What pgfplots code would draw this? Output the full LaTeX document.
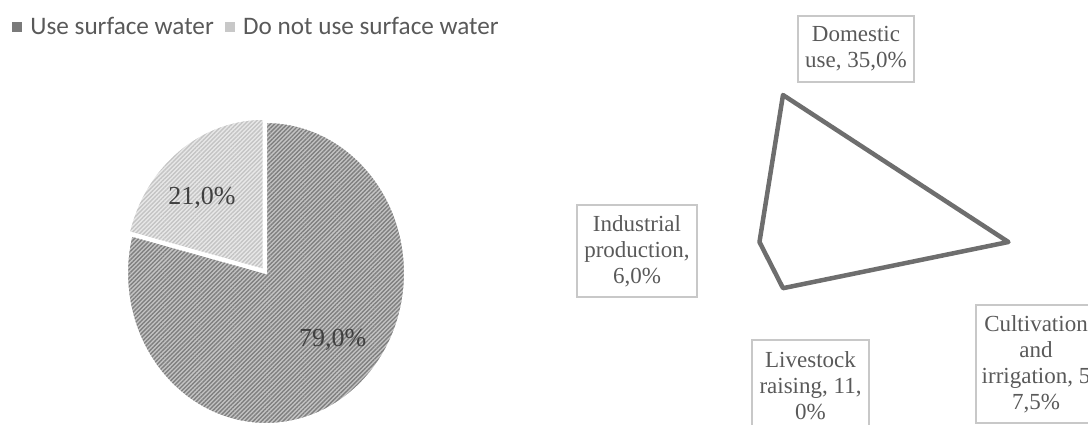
\documentclass[border=0pt]{standalone}
\usepackage{pgfplots}
\pgfplotsset{compat=1.18}
\usepackage{pgfplotstable}
\usepackage{fontspec}
\setmainfont{Liberation Serif}
\newfontfamily\legendfont{Carlito}
\usetikzlibrary{patterns.meta}
\definecolor{darkbase}{HTML}{C4C4C4}
\definecolor{darkline}{HTML}{7F7F7F}
\definecolor{lightbase}{HTML}{E8E8E8}
\definecolor{lightline}{HTML}{C4C4C4}
\definecolor{radarline}{HTML}{6E6E6E}
\definecolor{boxline}{HTML}{C8C8C8}
\definecolor{labeltext}{HTML}{595959}
\definecolor{pietext}{HTML}{404040}
\definecolor{legmarkA}{HTML}{7A7A7A}
\definecolor{legmarkB}{HTML}{C8C8C8}

\pgfplotstableread{
label value
Use 79.0
DoNot 21.0
}\pietable

% radar: value plotted on its own spoke (up, right, down, left)
\pgfplotstableread{
x y
0 35.0
57.5 0
0 -11.0
-6.0 0
}\radartable

\begin{document}
\begin{tikzpicture}
\path[use as bounding box] (0pt,0pt) rectangle (1088pt,424pt);
\clip (0pt,0pt) rectangle (1088pt,424pt);

\pgfplotstablegetelem{0}{value}\of\pietable \let\vA\pgfplotsretval
\pgfplotstablegetelem{1}{value}\of\pietable \let\vB\pgfplotsretval
\pgfmathsetmacro\angA{90-3.6*\vA}
\pgfmathsetmacro\angB{360+\angA}

\begin{axis}[
  hide axis, scale only axis,
  width=278pt, height=302pt,
  xmin=-1, xmax=1, ymin=-1, ymax=1,
  at={(266pt,151pt)}, anchor=center, clip=false,
  legend columns=2,
  legend style={draw=none, fill=none, inner sep=0pt, outer sep=0pt,
    at={(axis description cs:-0.4137,1.316)}, anchor=west,
    font=\legendfont\fontsize{25.2pt}{29pt}\selectfont, text=labeltext,
    nodes={inner sep=0pt},
    /tikz/every odd column/.style={column sep=9pt},
    /tikz/every even column/.style={column sep=11pt}},
]
\addlegendimage{legend image code/.code={\fill[legmarkA] (0pt,-4.5pt) rectangle (9pt,4.5pt);}}
\addlegendentry{Use surface water}
\addlegendimage{legend image code/.code={\fill[legmarkB] (0pt,-4.5pt) rectangle (9pt,4.5pt);}}
\addlegendentry{Do not use surface water}

\path (axis cs:0,0) coordinate (C);
\path[fill=darkbase,
  postaction={pattern={Lines[angle=45,distance=3pt,line width=1.4pt]}, pattern color=darkline},
  postaction={draw=white, line width=2pt}]
  (C) -- ++(0pt,151pt) arc[start angle=90, end angle=\angA, x radius=139pt, y radius=151pt] -- cycle;
\path (C) ++(-2.5pt,3.2pt) coordinate (C2);
\path[fill=lightbase,
  postaction={pattern={Lines[angle=45,distance=3pt,line width=1.4pt]}, pattern color=lightline},
  postaction={draw=white, line width=2pt}]
  (C2) -- ++(\angB:139pt and 151pt) arc[start angle=\angB, end angle=90, x radius=139pt, y radius=151pt] -- cycle;

\node[text=pietext, font=\fontsize{26pt}{30pt}\selectfont] at (axis cs:-0.46,0.50) {21,0\%};
\node[text=pietext, font=\fontsize{26pt}{30pt}\selectfont] at (axis cs:0.48,-0.44) {79,0\%};
\end{axis}

\begin{axis}[
  hide axis, scale only axis,
  width=274.4pt, height=231pt,
  xmin=-10, xmax=60, ymin=-15, ymax=40,
  at={(743.8pt,119pt)}, anchor=south west, clip=false,
]
\addplot[radarline, line width=4.5pt, line join=round, no marks] table {\radartable} -- cycle;
\end{axis}

\tikzset{lbl/.style={draw=boxline, line width=1.8pt, text=labeltext, align=center,
  font=\fontsize{23pt}{26pt}\selectfont, inner sep=0pt}}
\node[lbl, minimum width=116pt, minimum height=66pt] at (856pt,375pt) {Domestic\\use, 35,0\%};
\node[lbl, minimum width=120pt, minimum height=92pt] at (637pt,173pt) {Industrial\\production,\\6,0\%};
\node[lbl, minimum width=117pt, minimum height=92pt] at (810.5pt,38pt) {Livestock\\raising, 11,\\0\%};
\node[lbl, minimum width=120pt, minimum height=118pt] at (1036pt,60pt) {Cultivation\\and\\irrigation, 5\\7,5\%};
\end{tikzpicture}
\end{document}
